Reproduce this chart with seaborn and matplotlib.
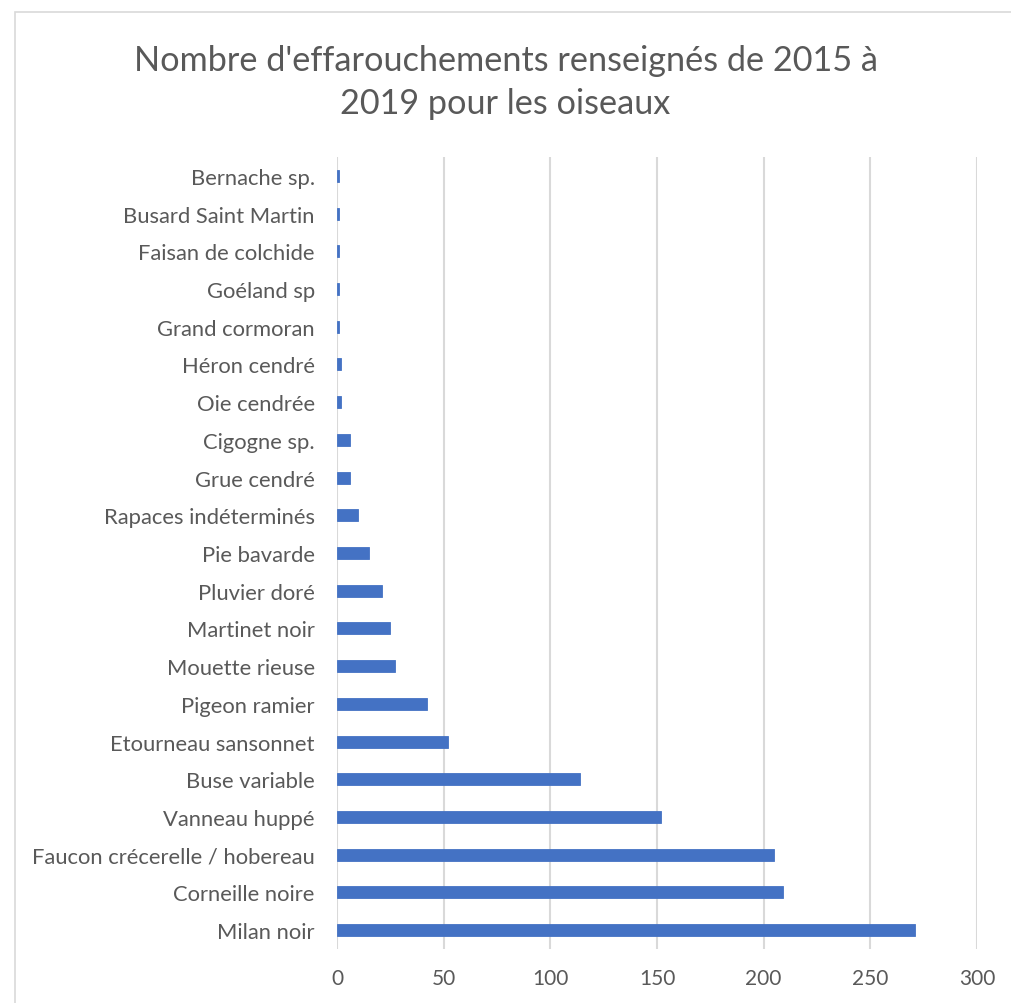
import matplotlib
matplotlib.use("Agg")
import matplotlib.pyplot as plt
import seaborn as sns
import pandas as pd
from matplotlib.patches import Rectangle

species = ["Bernache sp.", "Busard Saint Martin", "Faisan de colchide", "Goéland sp",
           "Grand cormoran", "Héron cendré", "Oie cendrée", "Cigogne sp.", "Grue cendré",
           "Rapaces indéterminés", "Pie bavarde", "Pluvier doré", "Martinet noir",
           "Mouette rieuse", "Pigeon ramier", "Etourneau sansonnet", "Buse variable",
           "Vanneau huppé", "Faucon crécerelle / hobereau", "Corneille noire", "Milan noir"]
counts = [1, 1, 1, 1, 1, 2, 2, 6, 6, 10, 15, 21, 25, 27, 42, 52, 114, 152, 205, 209, 271]
xticks = [0, 50, 100, 150, 200, 250, 300]

df = pd.DataFrame({"species": species, "count": counts})

sns.set_theme(style="white")
plt.rcParams['font.family'] = ['Lato', 'DejaVu Sans']
text_color = "#595959"

fig = plt.figure(figsize=(10.11, 10.04), dpi=100)
ax = fig.add_axes([337/1011, 1 - 950/1004, (977-337)/1011, (950-158)/1004])

sns.barplot(data=df, y="species", x="count", orient="h", color="#4472C4",
            width=0.32, ax=ax, saturation=1, edgecolor="#4472C4", linewidth=0.6)

ax.set_xlim(0, 300)
ax.set_xticks(xticks)
ax.set_xticklabels([str(t) for t in xticks], fontsize=15, color=text_color)
ax.tick_params(axis="y", labelsize=15.8, labelcolor=text_color, length=0, pad=16)
ax.tick_params(axis="x", length=0, pad=14)
ax.set_xlabel("")
ax.set_ylabel("")
ax.grid(axis="x", color="#D9D9D9", linewidth=1.5)
ax.set_axisbelow(True)
for s in ax.spines.values():
    s.set_visible(False)

fig.text(0.5, 1 - 61/1004, "Nombre d'effarouchements renseignés de 2015 à",
         ha="center", va="center", fontsize=24.7, color=text_color)
fig.text(0.5, 1 - 104/1004, "2019 pour les oiseaux",
         ha="center", va="center", fontsize=24.7, color=text_color)

fig.patches.append(Rectangle((15/1011, -0.05), 1.1, 1 - 13/1004 + 0.05,
                             transform=fig.transFigure, fill=False,
                             edgecolor="#D9D9D9", linewidth=1.2))

fig.savefig("out.png", dpi=100, facecolor="white")
